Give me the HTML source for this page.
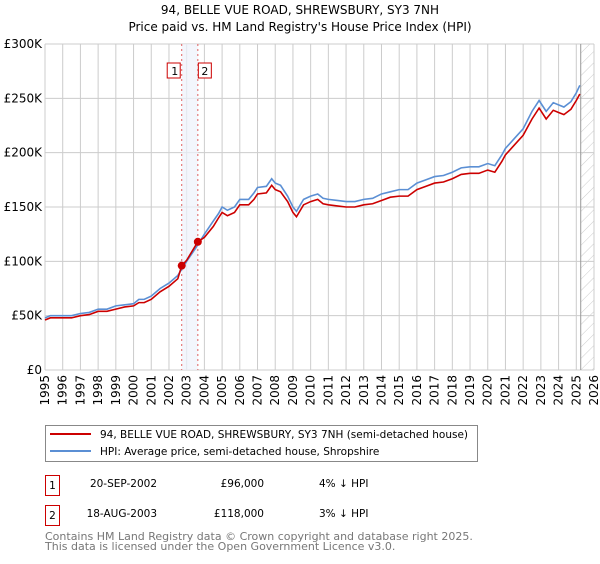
<!DOCTYPE html>
<html><head><meta charset="utf-8"><style>
body{margin:0;background:#fff;font-family:"DejaVu Sans","Liberation Sans",sans-serif;}
svg text{font-family:"DejaVu Sans","Liberation Sans",sans-serif;}
</style></head><body>
<svg id="chart" width="600" height="560" xmlns="http://www.w3.org/2000/svg">
<defs><pattern id="hatch" width="8" height="8" patternUnits="userSpaceOnUse" patternTransform="rotate(45)"><line x1="0" y1="0" x2="0" y2="8" stroke="#ccc" stroke-width="1"/></pattern></defs>
<text x="300" y="14" text-anchor="middle" font-size="12">94, BELLE VUE ROAD, SHREWSBURY, SY3 7NH</text>
<text x="300" y="31" text-anchor="middle" font-size="12">Price paid vs. HM Land Registry's House Price Index (HPI)</text>
<g id="grid"></g><g id="marks"></g><g id="axes"></g>
<g>
<rect x="45.5" y="425.5" width="432" height="36" fill="#fff" stroke="#888"/>
<line x1="50" y1="434" x2="91" y2="434" stroke="#cc0000" stroke-width="2"/>
<text x="100" y="438" font-size="10.5">94, BELLE VUE ROAD, SHREWSBURY, SY3 7NH (semi-detached house)</text>
<line x1="50" y1="451" x2="91" y2="451" stroke="#5b8fd4" stroke-width="2"/>
<text x="100" y="455" font-size="10.5">HPI: Average price, semi-detached house, Shropshire</text>
</g>
<g font-size="10.5">
<rect x="45.5" y="475.5" width="14" height="20" fill="#fff" stroke="#cc0000"/>
<text x="52.5" y="489" text-anchor="middle">1</text>
<text x="157" y="487" text-anchor="end">20-SEP-2002</text>
<text x="264" y="487" text-anchor="end">£96,000</text>
<text x="319" y="487">4% ↓ HPI</text>
<rect x="45.5" y="505.5" width="14" height="20" fill="#fff" stroke="#cc0000"/>
<text x="52.5" y="519" text-anchor="middle">2</text>
<text x="157" y="517" text-anchor="end">18-AUG-2003</text>
<text x="264" y="517" text-anchor="end">£118,000</text>
<text x="319" y="517">3% ↓ HPI</text>
</g>
<text x="45" y="540" font-size="11" fill="#777">Contains HM Land Registry data © Crown copyright and database right 2025.</text>
<text x="45" y="550" font-size="11" fill="#777">This data is licensed under the Open Government Licence v3.0.</text>
</svg>
<script>
const hpiYears=[1995,1995.3,1995.6,1996,1996.5,1997,1997.5,1998,1998.5,1999,1999.5,2000,2000.3,2000.6,2001,2001.5,2002,2002.5,2003,2003.5,2004,2004.5,2004.8,2005,2005.3,2005.7,2006,2006.5,2006.8,2007,2007.5,2007.8,2008,2008.3,2008.7,2009,2009.2,2009.6,2010,2010.4,2010.7,2011,2011.5,2012,2012.5,2013,2013.5,2014,2014.5,2015,2015.5,2016,2016.5,2017,2017.5,2018,2018.5,2019,2019.5,2020,2020.4,2020.8,2021,2021.5,2022,2022.5,2022.9,2023.3,2023.7,2024,2024.3,2024.7,2025,2025.2];
const hpiValues=[48,50,50,50,50,52,53,56,56,59,60,61,65,65,68,75,80,87,100,112,125,137,144,150,147,150,157,157,163,168,169,176,172,170,160,150,146,157,160,162,158,157,156,155,155,157,158,162,164,166,166,172,175,178,179,182,186,187,187,190,188,198,204,213,222,238,248,238,246,244,242,247,255,262];
const priceYears=[1995,1995.3,1995.6,1996,1996.5,1997,1997.5,1998,1998.5,1999,1999.5,2000,2000.3,2000.6,2001,2001.5,2002,2002.5,2002.72,2003,2003.63,2004,2004.5,2004.8,2005,2005.3,2005.7,2006,2006.5,2006.8,2007,2007.5,2007.8,2008,2008.3,2008.7,2009,2009.2,2009.6,2010,2010.4,2010.7,2011,2011.5,2012,2012.5,2013,2013.5,2014,2014.5,2015,2015.5,2016,2016.5,2017,2017.5,2018,2018.5,2019,2019.5,2020,2020.4,2020.8,2021,2021.5,2022,2022.5,2022.9,2023.3,2023.7,2024,2024.3,2024.7,2025,2025.2];
const priceValues=[46,48,48,48,48,50,51,54,54,56,58,59,62,62,65,72,77,84,96,101,118,122,132,140,145,142,145,152,152,157,162,163,170,166,164,155,145,141,152,155,157,153,152,151,150,150,152,153,156,159,160,160,166,169,172,173,176,180,181,181,184,182,192,198,207,216,231,241,231,239,237,235,240,248,254];
const saleYears=[2002.72,2003.63];
const saleValues=[96,118];
const yTicks=[0,50,100,150,200,250,300];
const yTickLabels=["£0","£50K","£100K","£150K","£200K","£250K","£300K"];
const xTicks=[1995,1996,1997,1998,1999,2000,2001,2002,2003,2004,2005,2006,2007,2008,2009,2010,2011,2012,2013,2014,2015,2016,2017,2018,2019,2020,2021,2022,2023,2024,2025,2026];
const NS="http://www.w3.org/2000/svg";
const L=45,R=594,T=44,B=370;
const xs=y=>L+(y-1995)*(R-L)/31;
const ys=v=>B-v*(B-T)/300;
function mk(tag,attrs,parent){const e=document.createElementNS(NS,tag);for(const k in attrs)e.setAttribute(k,attrs[k]);parent.appendChild(e);return e;}
const grid=document.getElementById('grid'),marks=document.getElementById('marks'),axes=document.getElementById('axes');
mk('rect',{x:L,y:T,width:R-L,height:B-T,fill:'#fff'},grid);
xTicks.forEach(t=>{const l=mk('line',{x1:xs(t),x2:xs(t),y1:T,y2:B,stroke:'#ccc'},grid);


const tx=mk('text',{x:0,y:0,'font-size':12,'text-anchor':'end',transform:`translate(${xs(t)+4},${B+5}) rotate(-90)`},axes);tx.textContent=t;

});
yTicks.forEach((t,i)=>{const l=mk('line',{x1:L,x2:R,y1:ys(t),y2:ys(t),stroke:'#ccc'},grid);


const tx=mk('text',{x:L-3,y:ys(t)+4,'font-size':12,'text-anchor':'end'},axes);tx.textContent=yTickLabels[i];

});
const band=mk('rect',{x:xs(saleYears[0]),y:T,width:xs(saleYears[1])-xs(saleYears[0]),height:B-T,fill:'#eef2fb',opacity:0.7},marks);


const hz=mk('rect',{x:xs(2025.25),y:T,width:R-xs(2025.25),height:B-T,fill:'url(#hatch)'},marks);


const vl=mk('line',{x1:xs(2025.25),x2:xs(2025.25),y1:T,y2:B,stroke:'#999'},marks);


saleYears.forEach((y,i)=>{const l=mk('line',{x1:xs(y),x2:xs(y),y1:T,y2:B,stroke:'#e06060','stroke-dasharray':'2,3'},marks);


const r=mk('rect',{x:xs(y)-(i==0?14:0)+ (i==0?-0.5:0.5),y:63,width:13,height:15,fill:'#fff',stroke:'#cc0000'},marks);


const t=mk('text',{x:xs(y)+(i==0?-7:7),y:75,'font-size':11,'text-anchor':'middle'},marks);t.textContent=String(i+1);

});
const hp=mk('polyline',{points:hpiYears.map((y,i)=>xs(y)+','+ys(hpiValues[i])).join(' '),fill:'none',stroke:'#5b8fd4','stroke-width':1.6},marks);


const pp=mk('polyline',{points:priceYears.map((y,i)=>xs(y)+','+ys(priceValues[i])).join(' '),fill:'none',stroke:'#cc0000','stroke-width':1.6},marks);


saleYears.forEach((y,i)=>{const c=mk('circle',{cx:xs(y),cy:ys(saleValues[i]),r:4,fill:'#cc0000'},marks);

});
</script>
</body></html>
